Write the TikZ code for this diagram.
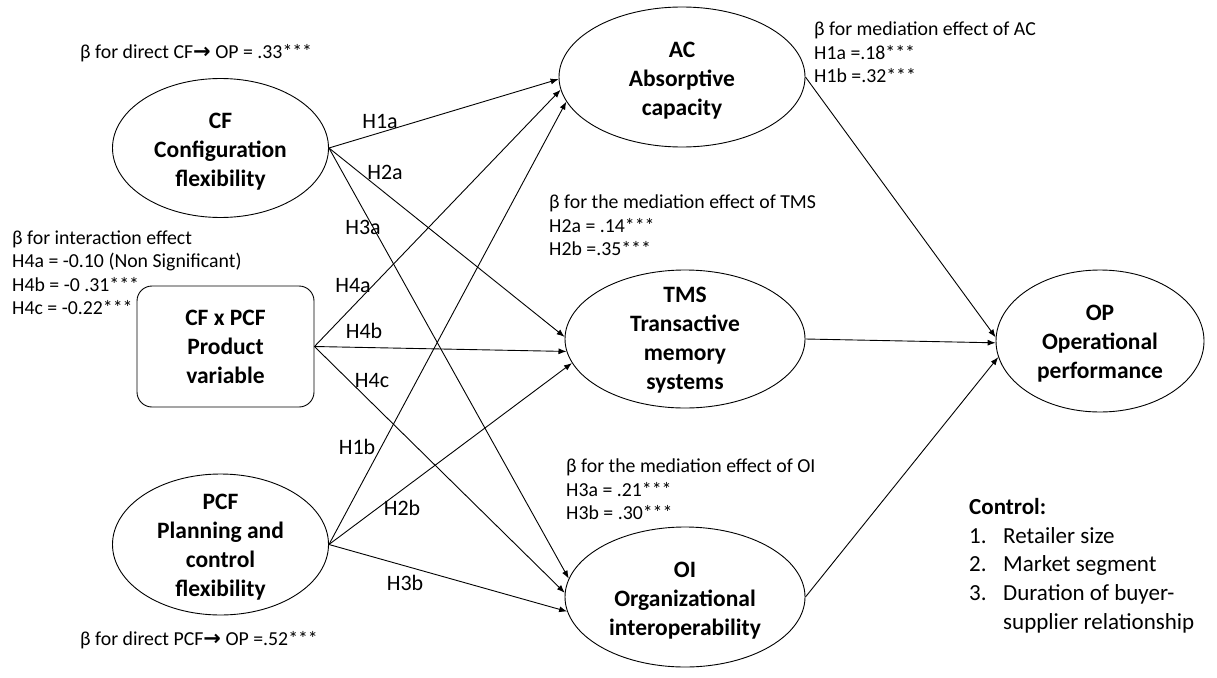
\documentclass[tikz,border=0pt]{standalone}
\usepackage{fontspec}
\setmainfont{Carlito}
\newfontfamily\arrowfont{DejaVu Sans}
\usepackage{tikz}
\usetikzlibrary{arrows.meta}
\usetikzlibrary{shapes.geometric}
\newcommand{\toop}{{\arrowfont\bfseries\fontsize{21}{20}\selectfont →}}
\tikzset{
	latent/.style={draw=black, ellipse, line width=0.9pt, inner sep=0pt},
	construct/.style={font=\bfseries\fontsize{23.5}{29}\selectfont, align=center, inner sep=0pt},
	product/.style={draw=black, rectangle, rounded corners=15pt, line width=0.9pt,
		minimum width=177pt, minimum height=121pt, inner sep=0pt},
	effect/.style={draw=black, line width=0.9pt, -{Latex[length=8pt,width=6pt]}},
	hyp/.style={font=\fontsize{22}{26}\selectfont, inner sep=0pt},
	beta/.style={font=\fontsize{19.8}{23.5}\selectfont, align=left, anchor=west, inner sep=0pt},
}

\begin{document}
\begin{tikzpicture}[x=1pt, y=-1pt]
		\useasboundingbox (0,0) rectangle (1217,677);
		% independent variables
		\node[latent, minimum width=216pt, minimum height=139pt] (cf) at (220.5,148) {};
		\node[construct] (cf-text) at ([yshift=-4pt]cf.center) {CF\\Configuration\\flexibility};
		\node[product] (cfpcf) at (225.5,346.5) {};
		\node[construct] (cfpcf-text) at (cfpcf) {CF x PCF\\Product\\variable};
		\node[latent, minimum width=216pt, minimum height=141pt] (pcf) at (220.5,544.5) {};
		\node[construct] (pcf-text) at ([yshift=-3pt]pcf.center) {PCF\\Planning and\\control\\flexibility};
		% mediators
		\node[latent, minimum width=246pt, minimum height=140pt] (ac) at (682,77) {};
		\node[construct] (ac-text) at ([yshift=-3.5pt]ac.center) {AC\\Absorptive\\capacity};
		\node[latent, minimum width=240pt, minimum height=138pt] (tms) at (685,339) {};
		\node[construct] (tms-text) at ([yshift=-1pt]tms.center) {TMS\\Transactive\\memory\\systems};
		\node[latent, minimum width=240pt, minimum height=140pt] (oi) at (685,597) {};
		\node[construct] (oi-text) at ([yshift=-4pt]oi.center) {OI\\Organizational\\interoperability};
		% outcome
		\node[latent, minimum width=208pt, minimum height=142pt] (op) at (1100,341) {};
		\node[construct] (op-text) at ([yshift=-3pt]op.center) {OP\\Operational\\performance};

		\draw[effect] (cf.east) -- (ac.181);
		\draw[effect] (cf.east) -- (tms.179);
		\draw[effect] (cf.east) -- (oi.171);
		\draw[effect] (cfpcf.east) -- (ac.186);
		\draw[effect] (cfpcf.east) -- (tms.186);
		\draw[effect] (cfpcf.east) -- (oi.178);
		\draw[effect] (pcf.east) -- (ac.192);
		\draw[effect] (pcf.east) -- (tms.192);
		\draw[effect] (pcf.east) -- (oi.187);
		\draw[effect] (ac.east) -- (op.178);
		\draw[effect] (tms.east) -- (op.181);
		\draw[effect] (oi.east) -- (op.189);

		\node[hyp] (h1a) at (380,122) {H1a};
		\node[hyp] (h2a) at (385,172) {H2a};
		\node[hyp] (h3a) at (363,227) {H3a};
		\node[hyp] (h4a) at (353,286) {H4a};
		\node[hyp] (h4b) at (364,331) {H4b};
		\node[hyp] (h4c) at (372,381) {H4c};
		\node[hyp] (h1b) at (357,447) {H1b};
		\node[hyp] (h2b) at (402,508) {H2b};
		\node[hyp] (h3b) at (405,583) {H3b};

		% coefficients
		\node[beta] (beta-cf) at (80,53) {β for direct CF\toop{} OP = .33***};
		\node[beta] (beta-int) at (12,272.5) {β for interaction effect\\H4a = -0.10 (Non Significant)\\H4b = -0 .31***\\H4c = -0.22***};
		\node[beta] (beta-pcf) at (80,640) {β for direct PCF\toop{} OP =.52***};
		\node[beta] (beta-ac) at (814,52.5) {β for mediation effect of AC\\H1a =.18***\\H1b =.32***};
		\node[beta] (beta-tms) at (549,225.5) {β for the mediation effect of TMS\\H2a = .14***\\H2b =.35***};
		\node[beta] (beta-oi) at (566,489.5) {β for the mediation effect of OI\\H3a = .21***\\H3b = .30***};
		\node[beta, font=\fontsize{23}{28.7}\selectfont] (control) at (969,565.5) {\textbf{Control:}\\
			\makebox[34pt][l]{1.}Retailer size\\
			\makebox[34pt][l]{2.}Market segment\\
			\makebox[34pt][l]{3.}Duration of buyer-\\
			\hspace*{34pt}supplier relationship};
	 \end{tikzpicture}
\end{document}
